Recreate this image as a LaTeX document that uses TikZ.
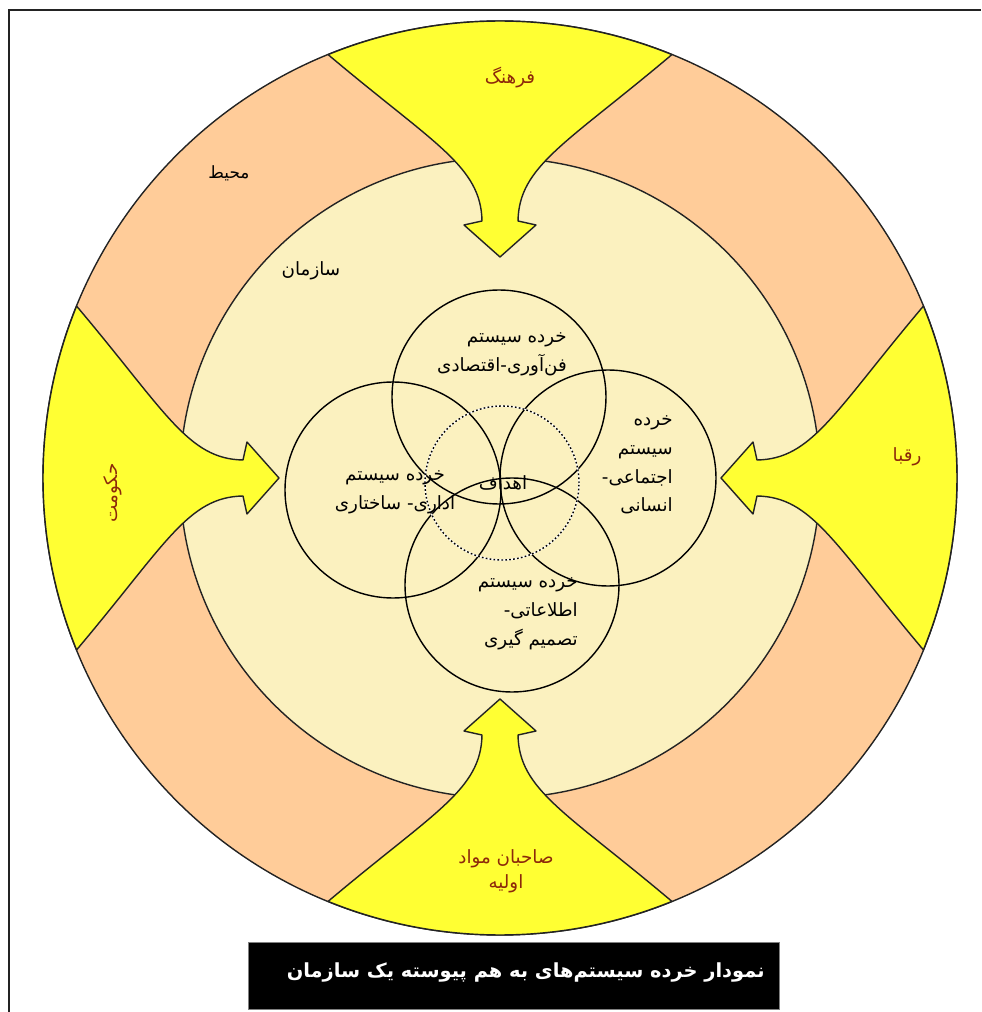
\documentclass[tikz,border=0pt]{standalone}
\usepackage{fontspec}
\newfontfamily\fa[Script=Arabic]{DejaVu Sans}
\TeXXeTstate=1
\definecolor{peach}{RGB}{255,204,153}
\definecolor{cream}{RGB}{251,241,191}
\definecolor{yel}{RGB}{255,255,51}
\definecolor{lbl}{RGB}{140,40,10}
\definecolor{edgec}{RGB}{35,35,35}
\tikzset{
  ring/.style={draw=edgec, line width=1pt},
  sub/.style={draw=black, line width=1pt},
  arrowshape/.style={fill=yel, draw=edgec, line width=1pt, line join=round},
  fatxt/.style={font=\fa\fontsize{13}{20.5}\selectfont, inner sep=0pt, text=black},
  arrtxt/.style={font=\fa\fontsize{13}{18}\selectfont, inner sep=0pt, text=lbl},
}
\newcommand{\inarrowpath}{(0,221) -- (36,253) -- (18,257) .. controls (19,312) and (66,334) .. (67.9:457) arc[start angle=67.9,end angle=112.1,radius=457] .. controls (-66,334) and (-19,312) .. (-18,257) -- (-36,253) -- cycle}
\begin{document}
\begin{tikzpicture}[x=0.025cm,y=0.025cm]
\useasboundingbox[fill=white] (-500,-534) rectangle (481,478);
% frame
\draw[line width=1.4pt, edgec] (-491,-534) -- (-491,468) -- (481,468);
% rings
\coordinate (c) at (0,0);
\draw[ring, fill=peach] (c) circle[radius=457];
\draw[ring, fill=cream] (c) circle[radius=320];
% arrows
\draw[arrowshape] \inarrowpath;
\begin{scope}[rotate=90]\draw[arrowshape] \inarrowpath;\end{scope}
\begin{scope}[rotate=180]\draw[arrowshape] \inarrowpath;\end{scope}
\begin{scope}[rotate=-90]\draw[arrowshape] \inarrowpath;\end{scope}
% sub-system circles
\coordinate (ctop) at (-1,81);
\coordinate (cleft) at (-107,-12);
\coordinate (cright) at (108,0);
\coordinate (cbot) at (12,-107);
\coordinate (cmid) at (2,-5);
\draw[sub] (ctop) circle[radius=107];
\draw[sub] (cleft) circle[radius=108];
\draw[sub] (cright) circle[radius=108];
\draw[sub] (cbot) circle[radius=107];
\draw[white, line width=1pt] (cmid) circle[radius=77];
\draw[black, line width=1pt, dash pattern=on 1.2pt off 1.6pt] (cmid) circle[radius=77];
% labels
\node[arrtxt] (farhang) at (10,400) {\beginR فرهنگ\endR};
\node[arrtxt, rotate=90] (hokumat) at (-387,-15) {\beginR حکومت\endR};
\node[arrtxt] (raqaba) at (407,21) {\beginR رقبا\endR};
\node[arrtxt, align=center] (saheban) at (6,-393) {\beginR صاحبان مواد\endR\\\beginR اولیه\endR};
\node[fatxt, font=\fa\fontsize{12}{18}\selectfont] (mohit) at (-271,305) {\beginR محیط\endR};
\node[fatxt] (sazman) at (-189,207) {\beginR سازمان\endR};
\node[fatxt, align=right, anchor=east] (ttop) at (67,124) {\beginR خرده سیستم\endR\\\beginR فن‌آوری-اقتصادی\endR};
\node[fatxt, align=right, anchor=east] (tright) at (173,13) {\beginR خرده\endR\\\beginR سیستم\endR\\\beginR اجتماعی-\endR\\\beginR انسانی\endR};
\node[fatxt, align=center] (tleft) at (-105,-14) {\beginR خرده سیستم\endR\\\beginR اداری- ساختاری\endR};
\node[fatxt] (tmid) at (3,-5) {\beginR اهداف\endR};
\node[fatxt, align=right, anchor=east] (tbot) at (78,-136) {\beginR خرده سیستم\endR\\\beginR اطلاعاتی-\endR\\\beginR تصمیم گیری\endR};
% caption
\node[fill=black, draw=gray, line width=0.6pt, anchor=north west, minimum width=13.275cm, minimum height=1.675cm, inner sep=0pt] (capbox) at (-252,-464) {};
\node[font=\fa\bfseries\fontsize{13.8}{17}\selectfont, text=white, anchor=east, inner sep=0pt] (cap) at (265,-494) {\beginR نمودار خرده سیستم‌های به هم پیوسته یک سازمان\endR};
\end{tikzpicture}
\end{document}
